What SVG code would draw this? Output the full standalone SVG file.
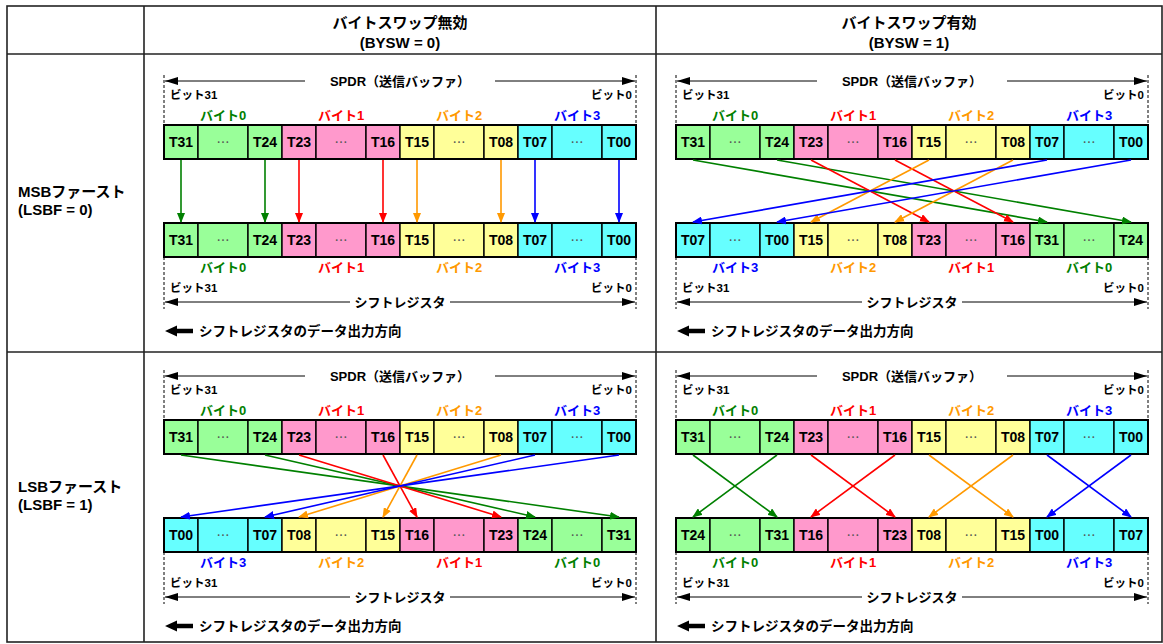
<svg xmlns="http://www.w3.org/2000/svg" width="1163" height="644" viewBox="0 0 1163 644">
<style>
text{font-family:"Liberation Sans","Noto Sans CJK JP",sans-serif;font-weight:bold;fill:#000}
.hd{font-size:15px;text-anchor:middle}
.rl{font-size:15px}
.c{stroke:#000;stroke-width:1.4}
.g{fill:#99ff99}.p{fill:#ff99cc}.y{fill:#ffff99}.b{fill:#66ffff}
.ol{fill:none;stroke:#000;stroke-width:2}
.t{font-size:14px;text-anchor:middle}
.d{font-family:"Noto Sans CJK JP",sans-serif;font-weight:normal;font-size:13px;fill:#555;text-anchor:middle}
.bl{font-size:13px;text-anchor:middle}
.tg{fill:#008000}.tr{fill:#ff0000}.to{fill:#ff9900}.tb{fill:#0000ff}
.bit{font-size:11.5px}
.be{font-size:11.5px;text-anchor:end}
.lab{font-size:13px;text-anchor:middle}
.out{font-size:13.5px}
.dash{stroke:#000;stroke-width:1;stroke-dasharray:3,2;fill:none}
.dim{stroke:#000;stroke-width:1;fill:none}
.grid{stroke:#222;stroke-width:1.6;fill:none}
.cn{stroke-width:1.6;fill:none}
.sg{stroke:#008000}.sr{stroke:#ff0000}.so{stroke:#ff9900}.sb{stroke:#0000ff}
</style>
<defs>
<marker id="ag" markerUnits="userSpaceOnUse" markerWidth="10" markerHeight="8" refX="9" refY="4" orient="auto" viewBox="0 0 10 8"><path d="M0,0L10,4L0,8z" fill="#008000"/></marker>
<marker id="ar" markerUnits="userSpaceOnUse" markerWidth="10" markerHeight="8" refX="9" refY="4" orient="auto" viewBox="0 0 10 8"><path d="M0,0L10,4L0,8z" fill="#ff0000"/></marker>
<marker id="ao" markerUnits="userSpaceOnUse" markerWidth="10" markerHeight="8" refX="9" refY="4" orient="auto" viewBox="0 0 10 8"><path d="M0,0L10,4L0,8z" fill="#ff9900"/></marker>
<marker id="ab" markerUnits="userSpaceOnUse" markerWidth="10" markerHeight="8" refX="9" refY="4" orient="auto" viewBox="0 0 10 8"><path d="M0,0L10,4L0,8z" fill="#0000ff"/></marker>
<marker id="ak" markerUnits="userSpaceOnUse" markerWidth="13" markerHeight="8" refX="13" refY="4" orient="auto" viewBox="0 0 13 8"><path d="M0,0L13,4L0,8z" fill="#000"/></marker>
<path id="thick" d="M0,0L12,-5.5L12,-2.3L28,-2.3L28,2.3L12,2.3L12,5.5z" fill="#000"/>
</defs>
<rect width="1163" height="644" fill="#fff"/>

<g id="table">
<rect class="grid" x="7" y="6" width="1155" height="636"/>
<line class="grid" x1="144" y1="6" x2="144" y2="642"/>
<line class="grid" x1="656" y1="6" x2="656" y2="642"/>
<line class="grid" x1="7" y1="54" x2="1162" y2="54"/>
<line class="grid" x1="7" y1="352" x2="1162" y2="352"/>
</g>

<g id="headers">
<text class="hd" x="400" y="28">バイトスワップ無効</text>
<text class="hd" x="400" y="48">(BYSW = 0)</text>
<text class="hd" x="909" y="28">バイトスワップ有効</text>
<text class="hd" x="909" y="48">(BYSW = 1)</text>
<text class="rl" x="18" y="197">MSBファースト</text>
<text class="rl" x="18" y="215">(LSBF = 0)</text>
<text class="rl" x="18" y="492">LSBファースト</text>
<text class="rl" x="18" y="510">(LSBF = 1)</text>
</g>

<!-- Panel A: MSB, no swap -->
<g id="A-labels">
<line class="dash" x1="164" y1="75" x2="164" y2="125"/>
<line class="dash" x1="636" y1="75" x2="636" y2="125"/>
<line class="dim" x1="305" y1="81" x2="165" y2="81" marker-end="url(#ak)"/>
<line class="dim" x1="495" y1="81" x2="635" y2="81" marker-end="url(#ak)"/>
<text class="lab" x="400" y="86">SPDR（送信バッファ）</text>
<text class="bit" x="170" y="99">ビット31</text>
<text class="be" x="632" y="99">ビット0</text>
<text class="bl tg" x="223" y="120">バイト0</text>
<text class="bl tr" x="341" y="120">バイト1</text>
<text class="bl to" x="459" y="120">バイト2</text>
<text class="bl tb" x="577" y="120">バイト3</text>
<text class="bl tg" x="223" y="272">バイト0</text>
<text class="bl tr" x="341" y="272">バイト1</text>
<text class="bl to" x="459" y="272">バイト2</text>
<text class="bl tb" x="577" y="272">バイト3</text>
<text class="bit" x="170" y="292">ビット31</text>
<text class="be" x="632" y="292">ビット0</text>
<line class="dash" x1="164" y1="257" x2="164" y2="309"/>
<line class="dash" x1="636" y1="257" x2="636" y2="309"/>
<line class="dim" x1="350" y1="302" x2="165" y2="302" marker-end="url(#ak)"/>
<line class="dim" x1="450" y1="302" x2="635" y2="302" marker-end="url(#ak)"/>
<text class="lab" x="400" y="307">シフトレジスタ</text>
<use href="#thick" x="165" y="331"/>
<text class="out" x="199" y="336">シフトレジスタのデータ出力方向</text>
</g>
<g id="A-spdr">
<rect class="c g" x="164" y="125" width="34" height="34"/><rect class="c g" x="198" y="125" width="50" height="34"/><rect class="c g" x="248" y="125" width="34" height="34"/>
<rect class="c p" x="282" y="125" width="34" height="34"/><rect class="c p" x="316" y="125" width="50" height="34"/><rect class="c p" x="366" y="125" width="34" height="34"/>
<rect class="c y" x="400" y="125" width="34" height="34"/><rect class="c y" x="434" y="125" width="50" height="34"/><rect class="c y" x="484" y="125" width="34" height="34"/>
<rect class="c b" x="518" y="125" width="34" height="34"/><rect class="c b" x="552" y="125" width="50" height="34"/><rect class="c b" x="602" y="125" width="34" height="34"/>
<rect class="ol" x="164" y="125" width="472" height="34"/>
<text class="t" x="181" y="147">T31</text><text class="d" x="223" y="147">…</text><text class="t" x="265" y="147">T24</text>
<text class="t" x="299" y="147">T23</text><text class="d" x="341" y="147">…</text><text class="t" x="383" y="147">T16</text>
<text class="t" x="417" y="147">T15</text><text class="d" x="459" y="147">…</text><text class="t" x="501" y="147">T08</text>
<text class="t" x="535" y="147">T07</text><text class="d" x="577" y="147">…</text><text class="t" x="619" y="147">T00</text>
</g>
<g id="A-shift">
<rect class="c g" x="164" y="223" width="34" height="34"/><rect class="c g" x="198" y="223" width="50" height="34"/><rect class="c g" x="248" y="223" width="34" height="34"/>
<rect class="c p" x="282" y="223" width="34" height="34"/><rect class="c p" x="316" y="223" width="50" height="34"/><rect class="c p" x="366" y="223" width="34" height="34"/>
<rect class="c y" x="400" y="223" width="34" height="34"/><rect class="c y" x="434" y="223" width="50" height="34"/><rect class="c y" x="484" y="223" width="34" height="34"/>
<rect class="c b" x="518" y="223" width="34" height="34"/><rect class="c b" x="552" y="223" width="50" height="34"/><rect class="c b" x="602" y="223" width="34" height="34"/>
<rect class="ol" x="164" y="223" width="472" height="34"/>
<text class="t" x="181" y="245">T31</text><text class="d" x="223" y="245">…</text><text class="t" x="265" y="245">T24</text>
<text class="t" x="299" y="245">T23</text><text class="d" x="341" y="245">…</text><text class="t" x="383" y="245">T16</text>
<text class="t" x="417" y="245">T15</text><text class="d" x="459" y="245">…</text><text class="t" x="501" y="245">T08</text>
<text class="t" x="535" y="245">T07</text><text class="d" x="577" y="245">…</text><text class="t" x="619" y="245">T00</text>
</g>

<!-- Panel B: MSB, swap -->
<g id="B-labels">
<line class="dash" x1="676" y1="75" x2="676" y2="125"/>
<line class="dash" x1="1148" y1="75" x2="1148" y2="125"/>
<line class="dim" x1="817" y1="81" x2="677" y2="81" marker-end="url(#ak)"/>
<line class="dim" x1="1007" y1="81" x2="1147" y2="81" marker-end="url(#ak)"/>
<text class="lab" x="912" y="86">SPDR（送信バッファ）</text>
<text class="bit" x="682" y="99">ビット31</text>
<text class="be" x="1144" y="99">ビット0</text>
<text class="bl tg" x="735" y="120">バイト0</text>
<text class="bl tr" x="853" y="120">バイト1</text>
<text class="bl to" x="971" y="120">バイト2</text>
<text class="bl tb" x="1089" y="120">バイト3</text>
<text class="bl tb" x="735" y="272">バイト3</text>
<text class="bl to" x="853" y="272">バイト2</text>
<text class="bl tr" x="971" y="272">バイト1</text>
<text class="bl tg" x="1089" y="272">バイト0</text>
<text class="bit" x="682" y="292">ビット31</text>
<text class="be" x="1144" y="292">ビット0</text>
<line class="dash" x1="676" y1="257" x2="676" y2="309"/>
<line class="dash" x1="1148" y1="257" x2="1148" y2="309"/>
<line class="dim" x1="862" y1="302" x2="677" y2="302" marker-end="url(#ak)"/>
<line class="dim" x1="962" y1="302" x2="1147" y2="302" marker-end="url(#ak)"/>
<text class="lab" x="912" y="307">シフトレジスタ</text>
<use href="#thick" x="677" y="331"/>
<text class="out" x="711" y="336">シフトレジスタのデータ出力方向</text>
</g>
<g id="B-spdr">
<rect class="c g" x="676" y="125" width="34" height="34"/><rect class="c g" x="710" y="125" width="50" height="34"/><rect class="c g" x="760" y="125" width="34" height="34"/>
<rect class="c p" x="794" y="125" width="34" height="34"/><rect class="c p" x="828" y="125" width="50" height="34"/><rect class="c p" x="878" y="125" width="34" height="34"/>
<rect class="c y" x="912" y="125" width="34" height="34"/><rect class="c y" x="946" y="125" width="50" height="34"/><rect class="c y" x="996" y="125" width="34" height="34"/>
<rect class="c b" x="1030" y="125" width="34" height="34"/><rect class="c b" x="1064" y="125" width="50" height="34"/><rect class="c b" x="1114" y="125" width="34" height="34"/>
<rect class="ol" x="676" y="125" width="472" height="34"/>
<text class="t" x="693" y="147">T31</text><text class="d" x="735" y="147">…</text><text class="t" x="777" y="147">T24</text>
<text class="t" x="811" y="147">T23</text><text class="d" x="853" y="147">…</text><text class="t" x="895" y="147">T16</text>
<text class="t" x="929" y="147">T15</text><text class="d" x="971" y="147">…</text><text class="t" x="1013" y="147">T08</text>
<text class="t" x="1047" y="147">T07</text><text class="d" x="1089" y="147">…</text><text class="t" x="1131" y="147">T00</text>
</g>
<g id="B-shift">
<rect class="c b" x="676" y="223" width="34" height="34"/><rect class="c b" x="710" y="223" width="50" height="34"/><rect class="c b" x="760" y="223" width="34" height="34"/>
<rect class="c y" x="794" y="223" width="34" height="34"/><rect class="c y" x="828" y="223" width="50" height="34"/><rect class="c y" x="878" y="223" width="34" height="34"/>
<rect class="c p" x="912" y="223" width="34" height="34"/><rect class="c p" x="946" y="223" width="50" height="34"/><rect class="c p" x="996" y="223" width="34" height="34"/>
<rect class="c g" x="1030" y="223" width="34" height="34"/><rect class="c g" x="1064" y="223" width="50" height="34"/><rect class="c g" x="1114" y="223" width="34" height="34"/>
<rect class="ol" x="676" y="223" width="472" height="34"/>
<text class="t" x="693" y="245">T07</text><text class="d" x="735" y="245">…</text><text class="t" x="777" y="245">T00</text>
<text class="t" x="811" y="245">T15</text><text class="d" x="853" y="245">…</text><text class="t" x="895" y="245">T08</text>
<text class="t" x="929" y="245">T23</text><text class="d" x="971" y="245">…</text><text class="t" x="1013" y="245">T16</text>
<text class="t" x="1047" y="245">T31</text><text class="d" x="1089" y="245">…</text><text class="t" x="1131" y="245">T24</text>
</g>

<!-- Panel C: LSB, no swap -->
<g id="C-labels">
<line class="dash" x1="164" y1="370" x2="164" y2="420"/>
<line class="dash" x1="636" y1="370" x2="636" y2="420"/>
<line class="dim" x1="305" y1="376" x2="165" y2="376" marker-end="url(#ak)"/>
<line class="dim" x1="495" y1="376" x2="635" y2="376" marker-end="url(#ak)"/>
<text class="lab" x="400" y="381">SPDR（送信バッファ）</text>
<text class="bit" x="170" y="394">ビット31</text>
<text class="be" x="632" y="394">ビット0</text>
<text class="bl tg" x="223" y="415">バイト0</text>
<text class="bl tr" x="341" y="415">バイト1</text>
<text class="bl to" x="459" y="415">バイト2</text>
<text class="bl tb" x="577" y="415">バイト3</text>
<text class="bl tb" x="223" y="567">バイト3</text>
<text class="bl to" x="341" y="567">バイト2</text>
<text class="bl tr" x="459" y="567">バイト1</text>
<text class="bl tg" x="577" y="567">バイト0</text>
<text class="bit" x="170" y="587">ビット31</text>
<text class="be" x="632" y="587">ビット0</text>
<line class="dash" x1="164" y1="552" x2="164" y2="604"/>
<line class="dash" x1="636" y1="552" x2="636" y2="604"/>
<line class="dim" x1="350" y1="597" x2="165" y2="597" marker-end="url(#ak)"/>
<line class="dim" x1="450" y1="597" x2="635" y2="597" marker-end="url(#ak)"/>
<text class="lab" x="400" y="602">シフトレジスタ</text>
<use href="#thick" x="165" y="626"/>
<text class="out" x="199" y="631">シフトレジスタのデータ出力方向</text>
</g>
<g id="C-spdr">
<rect class="c g" x="164" y="420" width="34" height="34"/><rect class="c g" x="198" y="420" width="50" height="34"/><rect class="c g" x="248" y="420" width="34" height="34"/>
<rect class="c p" x="282" y="420" width="34" height="34"/><rect class="c p" x="316" y="420" width="50" height="34"/><rect class="c p" x="366" y="420" width="34" height="34"/>
<rect class="c y" x="400" y="420" width="34" height="34"/><rect class="c y" x="434" y="420" width="50" height="34"/><rect class="c y" x="484" y="420" width="34" height="34"/>
<rect class="c b" x="518" y="420" width="34" height="34"/><rect class="c b" x="552" y="420" width="50" height="34"/><rect class="c b" x="602" y="420" width="34" height="34"/>
<rect class="ol" x="164" y="420" width="472" height="34"/>
<text class="t" x="181" y="442">T31</text><text class="d" x="223" y="442">…</text><text class="t" x="265" y="442">T24</text>
<text class="t" x="299" y="442">T23</text><text class="d" x="341" y="442">…</text><text class="t" x="383" y="442">T16</text>
<text class="t" x="417" y="442">T15</text><text class="d" x="459" y="442">…</text><text class="t" x="501" y="442">T08</text>
<text class="t" x="535" y="442">T07</text><text class="d" x="577" y="442">…</text><text class="t" x="619" y="442">T00</text>
</g>
<g id="C-shift">
<rect class="c b" x="164" y="518" width="34" height="34"/><rect class="c b" x="198" y="518" width="50" height="34"/><rect class="c b" x="248" y="518" width="34" height="34"/>
<rect class="c y" x="282" y="518" width="34" height="34"/><rect class="c y" x="316" y="518" width="50" height="34"/><rect class="c y" x="366" y="518" width="34" height="34"/>
<rect class="c p" x="400" y="518" width="34" height="34"/><rect class="c p" x="434" y="518" width="50" height="34"/><rect class="c p" x="484" y="518" width="34" height="34"/>
<rect class="c g" x="518" y="518" width="34" height="34"/><rect class="c g" x="552" y="518" width="50" height="34"/><rect class="c g" x="602" y="518" width="34" height="34"/>
<rect class="ol" x="164" y="518" width="472" height="34"/>
<text class="t" x="181" y="540">T00</text><text class="d" x="223" y="540">…</text><text class="t" x="265" y="540">T07</text>
<text class="t" x="299" y="540">T08</text><text class="d" x="341" y="540">…</text><text class="t" x="383" y="540">T15</text>
<text class="t" x="417" y="540">T16</text><text class="d" x="459" y="540">…</text><text class="t" x="501" y="540">T23</text>
<text class="t" x="535" y="540">T24</text><text class="d" x="577" y="540">…</text><text class="t" x="619" y="540">T31</text>
</g>

<!-- Panel D: LSB, swap -->
<g id="D-labels">
<line class="dash" x1="676" y1="370" x2="676" y2="420"/>
<line class="dash" x1="1148" y1="370" x2="1148" y2="420"/>
<line class="dim" x1="817" y1="376" x2="677" y2="376" marker-end="url(#ak)"/>
<line class="dim" x1="1007" y1="376" x2="1147" y2="376" marker-end="url(#ak)"/>
<text class="lab" x="912" y="381">SPDR（送信バッファ）</text>
<text class="bit" x="682" y="394">ビット31</text>
<text class="be" x="1144" y="394">ビット0</text>
<text class="bl tg" x="735" y="415">バイト0</text>
<text class="bl tr" x="853" y="415">バイト1</text>
<text class="bl to" x="971" y="415">バイト2</text>
<text class="bl tb" x="1089" y="415">バイト3</text>
<text class="bl tg" x="735" y="567">バイト0</text>
<text class="bl tr" x="853" y="567">バイト1</text>
<text class="bl to" x="971" y="567">バイト2</text>
<text class="bl tb" x="1089" y="567">バイト3</text>
<text class="bit" x="682" y="587">ビット31</text>
<text class="be" x="1144" y="587">ビット0</text>
<line class="dash" x1="676" y1="552" x2="676" y2="604"/>
<line class="dash" x1="1148" y1="552" x2="1148" y2="604"/>
<line class="dim" x1="862" y1="597" x2="677" y2="597" marker-end="url(#ak)"/>
<line class="dim" x1="962" y1="597" x2="1147" y2="597" marker-end="url(#ak)"/>
<text class="lab" x="912" y="602">シフトレジスタ</text>
<use href="#thick" x="677" y="626"/>
<text class="out" x="711" y="631">シフトレジスタのデータ出力方向</text>
</g>
<g id="D-spdr">
<rect class="c g" x="676" y="420" width="34" height="34"/><rect class="c g" x="710" y="420" width="50" height="34"/><rect class="c g" x="760" y="420" width="34" height="34"/>
<rect class="c p" x="794" y="420" width="34" height="34"/><rect class="c p" x="828" y="420" width="50" height="34"/><rect class="c p" x="878" y="420" width="34" height="34"/>
<rect class="c y" x="912" y="420" width="34" height="34"/><rect class="c y" x="946" y="420" width="50" height="34"/><rect class="c y" x="996" y="420" width="34" height="34"/>
<rect class="c b" x="1030" y="420" width="34" height="34"/><rect class="c b" x="1064" y="420" width="50" height="34"/><rect class="c b" x="1114" y="420" width="34" height="34"/>
<rect class="ol" x="676" y="420" width="472" height="34"/>
<text class="t" x="693" y="442">T31</text><text class="d" x="735" y="442">…</text><text class="t" x="777" y="442">T24</text>
<text class="t" x="811" y="442">T23</text><text class="d" x="853" y="442">…</text><text class="t" x="895" y="442">T16</text>
<text class="t" x="929" y="442">T15</text><text class="d" x="971" y="442">…</text><text class="t" x="1013" y="442">T08</text>
<text class="t" x="1047" y="442">T07</text><text class="d" x="1089" y="442">…</text><text class="t" x="1131" y="442">T00</text>
</g>
<g id="D-shift">
<rect class="c g" x="676" y="518" width="34" height="34"/><rect class="c g" x="710" y="518" width="50" height="34"/><rect class="c g" x="760" y="518" width="34" height="34"/>
<rect class="c p" x="794" y="518" width="34" height="34"/><rect class="c p" x="828" y="518" width="50" height="34"/><rect class="c p" x="878" y="518" width="34" height="34"/>
<rect class="c y" x="912" y="518" width="34" height="34"/><rect class="c y" x="946" y="518" width="50" height="34"/><rect class="c y" x="996" y="518" width="34" height="34"/>
<rect class="c b" x="1030" y="518" width="34" height="34"/><rect class="c b" x="1064" y="518" width="50" height="34"/><rect class="c b" x="1114" y="518" width="34" height="34"/>
<rect class="ol" x="676" y="518" width="472" height="34"/>
<text class="t" x="693" y="540">T24</text><text class="d" x="735" y="540">…</text><text class="t" x="777" y="540">T31</text>
<text class="t" x="811" y="540">T16</text><text class="d" x="853" y="540">…</text><text class="t" x="895" y="540">T23</text>
<text class="t" x="929" y="540">T08</text><text class="d" x="971" y="540">…</text><text class="t" x="1013" y="540">T15</text>
<text class="t" x="1047" y="540">T00</text><text class="d" x="1089" y="540">…</text><text class="t" x="1131" y="540">T07</text>
</g>

<g id="connectors">
<!-- A -->
<line class="cn sg" x1="181" y1="160" x2="181" y2="222" marker-end="url(#ag)"/>
<line class="cn sg" x1="265" y1="160" x2="265" y2="222" marker-end="url(#ag)"/>
<line class="cn sr" x1="299" y1="160" x2="299" y2="222" marker-end="url(#ar)"/>
<line class="cn sr" x1="383" y1="160" x2="383" y2="222" marker-end="url(#ar)"/>
<line class="cn so" x1="417" y1="160" x2="417" y2="222" marker-end="url(#ao)"/>
<line class="cn so" x1="501" y1="160" x2="501" y2="222" marker-end="url(#ao)"/>
<line class="cn sb" x1="535" y1="160" x2="535" y2="222" marker-end="url(#ab)"/>
<line class="cn sb" x1="619" y1="160" x2="619" y2="222" marker-end="url(#ab)"/>
<!-- B -->
<line class="cn sg" x1="693" y1="160" x2="1047" y2="222" marker-end="url(#ag)"/>
<line class="cn sg" x1="777" y1="160" x2="1131" y2="222" marker-end="url(#ag)"/>
<line class="cn sr" x1="811" y1="160" x2="929" y2="222" marker-end="url(#ar)"/>
<line class="cn sr" x1="895" y1="160" x2="1013" y2="222" marker-end="url(#ar)"/>
<line class="cn so" x1="929" y1="160" x2="811" y2="222" marker-end="url(#ao)"/>
<line class="cn so" x1="1013" y1="160" x2="895" y2="222" marker-end="url(#ao)"/>
<line class="cn sb" x1="1047" y1="160" x2="693" y2="222" marker-end="url(#ab)"/>
<line class="cn sb" x1="1131" y1="160" x2="777" y2="222" marker-end="url(#ab)"/>
<!-- C -->
<line class="cn sg" x1="181" y1="455" x2="619" y2="517" marker-end="url(#ag)"/>
<line class="cn sg" x1="265" y1="455" x2="535" y2="517" marker-end="url(#ag)"/>
<line class="cn sr" x1="299" y1="455" x2="501" y2="517" marker-end="url(#ar)"/>
<line class="cn sr" x1="383" y1="455" x2="417" y2="517" marker-end="url(#ar)"/>
<line class="cn so" x1="417" y1="455" x2="383" y2="517" marker-end="url(#ao)"/>
<line class="cn so" x1="501" y1="455" x2="299" y2="517" marker-end="url(#ao)"/>
<line class="cn sb" x1="535" y1="455" x2="265" y2="517" marker-end="url(#ab)"/>
<line class="cn sb" x1="619" y1="455" x2="181" y2="517" marker-end="url(#ab)"/>
<!-- D -->
<line class="cn sg" x1="693" y1="455" x2="777" y2="517" marker-end="url(#ag)"/>
<line class="cn sg" x1="777" y1="455" x2="693" y2="517" marker-end="url(#ag)"/>
<line class="cn sr" x1="811" y1="455" x2="895" y2="517" marker-end="url(#ar)"/>
<line class="cn sr" x1="895" y1="455" x2="811" y2="517" marker-end="url(#ar)"/>
<line class="cn so" x1="929" y1="455" x2="1013" y2="517" marker-end="url(#ao)"/>
<line class="cn so" x1="1013" y1="455" x2="929" y2="517" marker-end="url(#ao)"/>
<line class="cn sb" x1="1047" y1="455" x2="1131" y2="517" marker-end="url(#ab)"/>
<line class="cn sb" x1="1131" y1="455" x2="1047" y2="517" marker-end="url(#ab)"/>
</g>
</svg>
